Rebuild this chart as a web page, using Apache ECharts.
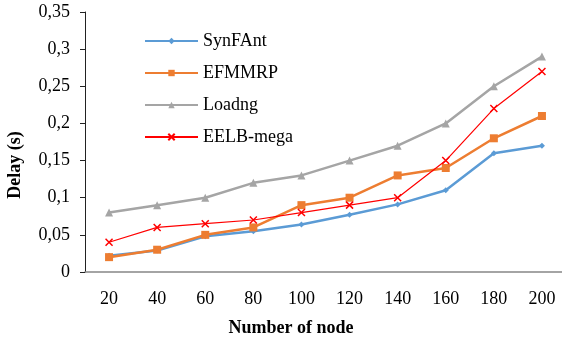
<!DOCTYPE html>
<html>
<head>
<meta charset="utf-8">
<script src="https://cdn.jsdelivr.net/npm/echarts@6/dist/echarts.min.js"></script>
<style>
  html, body { margin: 0; padding: 0; background: #fff; }
  #chart { width: 562px; height: 343px; }
</style>
</head>
<body>
<div id="chart"></div>
<script>
// Number of nodes on the x axis
const nodes = ['20', '40', '60', '80', '100', '120', '140', '160', '180', '200'];

// End-to-end delay (s) per protocol
const synFAnt  = [0.022, 0.029, 0.048, 0.055, 0.064, 0.077, 0.091, 0.11, 0.16, 0.17];
const efmmrp   = [0.02, 0.03, 0.05, 0.06, 0.09, 0.10, 0.13, 0.14, 0.18, 0.21];
const loadng   = [0.08, 0.09, 0.10, 0.12, 0.13, 0.15, 0.17, 0.20, 0.25, 0.29];
const eelbMega = [0.04, 0.06, 0.065, 0.07, 0.08, 0.09, 0.10, 0.15, 0.22, 0.27];

const FONT = 'Liberation Serif';
const crossPath = 'path://M0,0L10,10M10,0L0,10';

const chart = echarts.init(document.getElementById('chart'), null, { renderer: 'canvas' });

chart.setOption({
  animation: false,
  backgroundColor: '#ffffff',
  textStyle: { fontFamily: FONT },
  grid: { left: 85, top: 12, width: 481, height: 260, containLabel: false, outerBoundsMode: 'none' },
  legend: {
    orient: 'vertical',
    left: 139,
    top: 27,
    itemWidth: 53,
    itemHeight: 8,
    itemGap: 14,
    textStyle: { fontFamily: FONT, fontSize: 18, color: '#000' },
    data: ['SynFAnt', 'EFMMRP', 'Loadng', 'EELB-mega']
  },
  xAxis: {
    type: 'category',
    data: nodes,
    boundaryGap: true,
    axisLine: { lineStyle: { color: '#868686', width: 1.5 } },
    axisTick: { show: false },
    axisLabel: { fontFamily: FONT, fontSize: 18, color: '#000', margin: 18 }
  },
  yAxis: {
    type: 'value',
    min: 0,
    max: 0.35,
    interval: 0.05,
    axisLine: { show: true, lineStyle: { color: '#222', width: 1 } },
    axisTick: { show: true, inside: false, length: 5, lineStyle: { color: '#222' } },
    splitLine: { show: false },
    axisLabel: {
      fontFamily: FONT, fontSize: 18, color: '#000', margin: 15,
      formatter: v => (Math.round(v * 100) / 100).toString().replace('.', ',')
    }
  },
  graphic: [
    {
      type: 'text', x: 291, y: 328,
      style: { text: 'Number of node', font: 'bold 18px "' + FONT + '"', fill: '#000', align: 'center', verticalAlign: 'middle' }
    },
    {
      type: 'text', x: 15, y: 165, rotation: Math.PI / 2,
      style: { text: 'Delay (s)', font: 'bold 18px "' + FONT + '"', fill: '#000', align: 'center', verticalAlign: 'middle' }
    }
  ],
  series: [
    {
      name: 'SynFAnt', type: 'line', data: synFAnt,
      symbol: 'diamond', symbolSize: 6,
      lineStyle: { color: '#5B9BD5', width: 2.5 },
      itemStyle: { color: '#5B9BD5' }
    },
    {
      name: 'EFMMRP', type: 'line', data: efmmrp,
      symbol: 'rect', symbolSize: 8,
      lineStyle: { color: '#ED7D31', width: 2.5 },
      itemStyle: { color: '#ED7D31' }
    },
    {
      name: 'Loadng', type: 'line', data: loadng,
      symbol: 'triangle', symbolSize: 8,
      lineStyle: { color: '#A5A5A5', width: 2.5 },
      itemStyle: { color: '#A5A5A5' }
    },
    {
      name: 'EELB-mega', type: 'line', data: eelbMega,
      symbol: crossPath, symbolSize: 7,
      lineStyle: { color: '#FF0000', width: 1.2 },
      itemStyle: { color: '#FF0000', borderColor: '#FF0000', borderWidth: 1.5 }
    }
  ]
});
</script>
</body>
</html>
